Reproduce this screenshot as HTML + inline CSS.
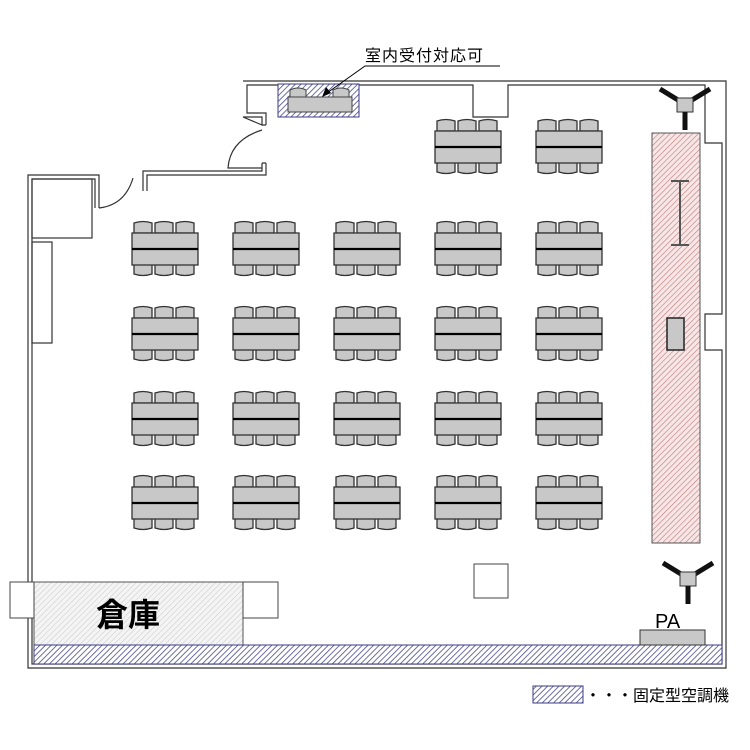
<!DOCTYPE html>
<html><head><meta charset="utf-8"><style>body{margin:0;background:#fff}svg{display:block}</style></head><body>
<svg width="750" height="750" viewBox="0 0 750 750" xmlns="http://www.w3.org/2000/svg">
<defs>
<pattern id="hb" width="4" height="4" patternUnits="userSpaceOnUse" patternTransform="rotate(45)"><rect width="4" height="4" fill="#fff"/><line x1="0" y1="0" x2="0" y2="4" stroke="#4a4a8a" stroke-width="1.6"/></pattern>
<pattern id="hr" width="4" height="4" patternUnits="userSpaceOnUse" patternTransform="rotate(45)"><rect width="4" height="4" fill="#f7e6e6"/><line x1="0" y1="0" x2="0" y2="4" stroke="#c07a7a" stroke-width="1.2"/></pattern>
<pattern id="hg" width="4" height="4" patternUnits="userSpaceOnUse" patternTransform="rotate(45)"><rect width="4" height="4" fill="#f4f4f4"/><line x1="0" y1="0" x2="0" y2="4" stroke="#c8c8c8" stroke-width="1"/></pattern>
<g id="t">
<path d="M2,13 v-10 q9,-3 18,0 v10 z M23,13 v-10 q9,-3 18,0 v10 z M44,13 v-10 q9,-3 18,0 v10 z" fill="#c8c8c8" stroke="#333" stroke-width="1.3"/>
<path d="M2,44 v10 q9,3 18,0 v-10 z M23,44 v10 q9,3 18,0 v-10 z M44,44 v10 q9,3 18,0 v-10 z" fill="#c8c8c8" stroke="#333" stroke-width="1.3"/>
<rect x="0" y="13" width="66" height="32" fill="#c8c8c8" stroke="#333" stroke-width="1.3"/>
<line x1="0" y1="29" x2="66" y2="29" stroke="#000" stroke-width="2.2"/>
</g>
</defs>
<g fill="none" stroke="#333" stroke-width="1.2">
<path d="M243,81 H726 V668 H28 V175 H99 V208 M143,191 V171 H262 V163 M262,125 V117 H243 Z"/>
<path d="M95,208 V179 H32 V664 H722 V350 H705 V314 H722 V143 H705 V85 H508 V117 H473 V85 H247 V113 H266 V125"/>
<path d="M266,163 V175 H147 V191"/>
<path d="M262,125 H266 M262,163 H266"/>
<path d="M262,130 Q230,140 228,168 H262"/>
<path d="M99,208 Q125,205 133,178"/>
<rect x="32" y="179" width="60" height="59"/>
<rect x="32" y="242" width="20" height="101"/>
</g>
<rect x="278" y="84" width="81" height="33" fill="url(#hb)" stroke="#3a3a8a" stroke-width="1"/>
<path d="M290,97 v-7 q8,-4 16,0 v7 z M333,97 v-7 q8,-4 16,0 v7 z" fill="#c8c8c8" stroke="#444"/>
<rect x="288" y="97" width="64" height="15" fill="#c8c8c8" stroke="#444"/>
<text x="365" y="61" font-family="Liberation Sans,'Noto Sans CJK JP',sans-serif" font-size="16" letter-spacing="1">室内受付対応可</text>
<path d="M500,66 H365 L327,93" stroke="#000" fill="none"/>
<path d="M322,97 l4,-10 l5,6 z" fill="#000"/>
<rect x="652" y="133" width="48" height="410" fill="url(#hr)" stroke="#555"/>
<path d="M671,181 H689 M680,181 V245 M671,245 H689" stroke="#555" stroke-width="2" fill="none"/>
<rect x="667" y="318" width="17" height="32" fill="#c8c8c8" stroke="#222" stroke-width="1.5"/>
<g id="sp"><path d="M660,89 L678,100 M710,89 L692,100" stroke="#111" stroke-width="5"/>
<rect x="677" y="98" width="16" height="14" fill="#c8c8c8" stroke="#333"/>
<line x1="685" y1="112" x2="685" y2="130" stroke="#111" stroke-width="5"/></g>
<use href="#sp" transform="translate(3,474)"/>
<use href="#t" x="435" y="118"/><use href="#t" x="536" y="118"/>
<use href="#t" x="132" y="220"/><use href="#t" x="233" y="220"/><use href="#t" x="334" y="220"/><use href="#t" x="435" y="220"/><use href="#t" x="536" y="220"/>
<use href="#t" x="132" y="305"/><use href="#t" x="233" y="305"/><use href="#t" x="334" y="305"/><use href="#t" x="435" y="305"/><use href="#t" x="536" y="305"/>
<use href="#t" x="132" y="390"/><use href="#t" x="233" y="390"/><use href="#t" x="334" y="390"/><use href="#t" x="435" y="390"/><use href="#t" x="536" y="390"/>
<use href="#t" x="132" y="474"/><use href="#t" x="233" y="474"/><use href="#t" x="334" y="474"/><use href="#t" x="435" y="474"/><use href="#t" x="536" y="474"/>
<rect x="474" y="564" width="34" height="34" fill="#fff" stroke="#444"/>
<rect x="34" y="582" width="209" height="63" fill="url(#hg)" stroke="#555"/>
<rect x="10" y="582" width="24" height="36" fill="#fff" stroke="#444"/>
<rect x="243" y="582" width="35" height="36" fill="#fff" stroke="#444"/>
<text x="96" y="626" font-family="Liberation Sans,'Noto Sans CJK JP',sans-serif" font-size="32" font-weight="bold">倉庫</text>
<rect x="34" y="645" width="688" height="19" fill="url(#hb)" stroke="#3a3a8a"/>
<rect x="640" y="630" width="65" height="15" fill="#c8c8c8" stroke="#333"/>
<text x="655" y="628" font-family="Liberation Sans,sans-serif" font-size="20">PA</text>
<rect x="533" y="686" width="50" height="17" fill="url(#hb)" stroke="#3a3a8a"/>
<text x="585" y="701" font-family="Liberation Sans,'Noto Sans CJK JP',sans-serif" font-size="16">・・・固定型空調機</text>
</svg>
</body></html>
